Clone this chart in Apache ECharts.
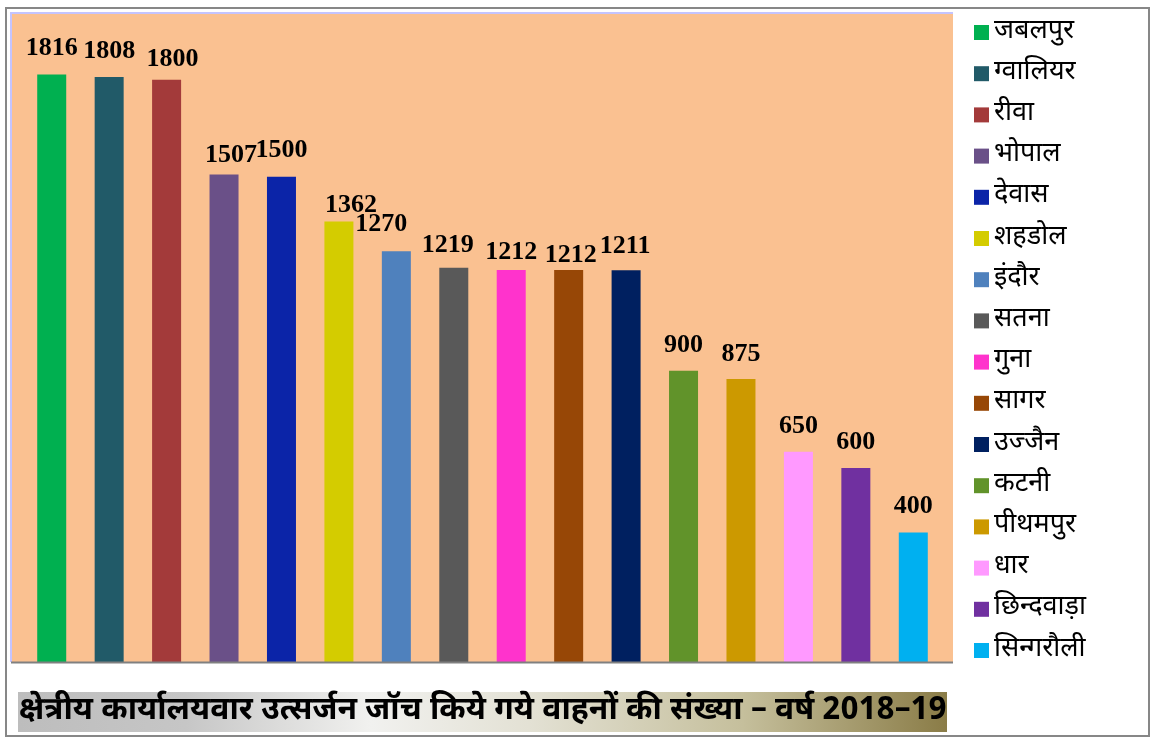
<!DOCTYPE html>
<html>
<head>
<meta charset="utf-8">
<script src="https://cdn.jsdelivr.net/npm/echarts@6/dist/echarts.min.js"></script>
<style>
  html, body { margin: 0; padding: 0; background: #ffffff; }
  #chart { width: 1151px; height: 740px; }
</style>
</head>
<body>
<div id="chart"></div>
<script>
// Regional offices (in ranked order) and the number of vehicles checked for emissions, 2018-19
const offices = ['जबलपुर', 'ग्वालियर', 'रीवा', 'भोपाल', 'देवास', 'शहडोल', 'इंदौर', 'सतना',
                 'गुना', 'सागर', 'उज्जैन', 'कटनी', 'पीथमपुर', 'धार', 'छिन्दवाड़ा', 'सिन्गरौली'];
const vehiclesChecked = [1816, 1808, 1800, 1507, 1500, 1362, 1270, 1219,
                         1212, 1212, 1211, 900, 875, 650, 600, 400];
const titleText = 'क्षेत्रीय कार्यालयवार उत्सर्जन जॉच किये गये वाहनों की संख्या – वर्ष 2018–19';

// One colour per office
const barColors = ['#00b050', '#215a68', '#a33a3a', '#6a5088', '#0b24a8', '#d4cc00', '#4f81bd', '#595959',
                   '#ff33cc', '#974706', '#002060', '#61932a', '#cc9900', '#ff99ff', '#7030a0', '#00b0f0'];
// Small nudges [dx, dy] for value labels that sit off their default spot
const labelNudge = [[0, 0], [0, 0], [6, 6], [7, 7], [0, 0], [12, 10], [-15, -1], [-6, 4],
                    [0, 8], [2, 11], [-1, 2], [0, 0], [0, 1], [0, 1], [0, 0], [0, 0]];

const devFont = '"Noto Sans Devanagari", "Lohit Devanagari", "Mangal", "FreeSans", sans-serif';

const series = offices.map(function (name, i) {
  const data = offices.map(function () { return '-'; });
  data[i] = { value: vehiclesChecked[i], label: { offset: labelNudge[i] } };
  return {
    name: name,
    type: 'bar',
    data: data,
    barWidth: 29,
    barGap: '-100%',
    itemStyle: { color: barColors[i] },
    label: {
      show: true,
      position: 'top',
      distance: 13,
      color: '#000000',
      fontFamily: '"Liberation Serif", "Times New Roman", serif',
      fontWeight: 'bold',
      fontSize: 26,
      lineHeight: 26
    }
  };
});

const chart = echarts.init(document.getElementById('chart'), null, { renderer: 'canvas' });

chart.setOption({
  animation: false,
  backgroundColor: '#ffffff',
  grid: { left: 23, right: 209, top: 15, bottom: 78, containLabel: false },
  xAxis: {
    type: 'category',
    data: offices,
    show: false
  },
  yAxis: {
    type: 'value',
    min: 0,
    max: 2000,
    show: false
  },
  legend: {
    orient: 'vertical',
    left: 974,
    top: 19,
    padding: 0,
    itemWidth: 15,
    itemHeight: 15,
    itemGap: 14.2,
    icon: 'rect',
    textStyle: {
      color: '#000000',
      fontFamily: devFont,
      fontSize: 27,
      lineHeight: 27
    },
    data: offices
  },
  graphic: [
    // outer frame
    {
      type: 'rect', z: -20, silent: true,
      shape: { x: 6, y: 8, width: 1143, height: 728 },
      style: { fill: '#ffffff', stroke: '#878787', lineWidth: 2 }
    },
    // plot area fill
    {
      type: 'rect', z: -10, silent: true,
      shape: { x: 11, y: 13, width: 942, height: 649 },
      style: { fill: '#fac191' }
    },
    {
      type: 'polyline', z: -9, silent: true,
      shape: { points: [[11, 662], [11, 13], [953, 13]] },
      style: { stroke: '#c4c4ff', lineWidth: 2, fill: null }
    },
    // baseline
    {
      type: 'line', z: 50, silent: true,
      shape: { x1: 11, y1: 662.5, x2: 953, y2: 662.5 },
      style: { stroke: '#808080', lineWidth: 2 }
    },
    // title banner
    {
      type: 'rect', z: 60, silent: true,
      shape: { x: 18, y: 692, width: 929, height: 40 },
      style: {
        fill: {
          type: 'linear', x: 0, y: 0, x2: 1, y2: 0,
          colorStops: [
            { offset: 0, color: '#bdbdbd' },
            { offset: 0.18, color: '#c6c6c6' },
            { offset: 0.38, color: '#f1f1ef' },
            { offset: 0.55, color: '#e3e1d4' },
            { offset: 0.78, color: '#c5bf9c' },
            { offset: 1, color: '#8a7c47' }
          ]
        }
      }
    },
    {
      type: 'text', z: 61, silent: true,
      x: 19, y: 713,
      style: {
        text: titleText,
        fill: '#000000',
        font: 'bold 31.8px ' + devFont,
        verticalAlign: 'middle'
      }
    }
  ],
  series: series
});
</script>
</body>
</html>
